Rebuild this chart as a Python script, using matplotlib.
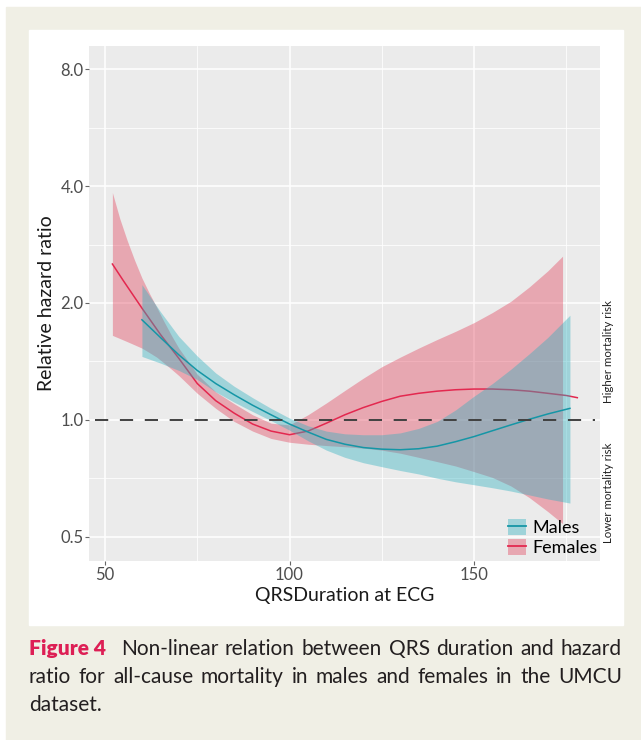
import matplotlib.pyplot as plt
from matplotlib.patches import Rectangle, Patch
from matplotlib.lines import Line2D
from matplotlib.ticker import FixedLocator
import matplotlib.transforms as mtransforms

plt.rcParams['font.family'] = ['Lato', 'DejaVu Sans']

# Males: hazard ratio curve with 95% band
male_x = [60, 65, 70, 75, 80, 85, 90, 95, 100, 105, 110, 115, 120, 125, 130,
          135, 140, 145, 150, 155, 160, 165, 170, 176]
male_hr = [1.81, 1.63, 1.47, 1.34, 1.24, 1.16, 1.09, 1.03, 0.975, 0.93, 0.89, 0.865,
           0.848, 0.84, 0.837, 0.842, 0.855, 0.878, 0.905, 0.937, 0.97, 1.003, 1.035, 1.07]
male_hi = [2.23, 1.90, 1.64, 1.46, 1.32, 1.22, 1.14, 1.07, 1.01, 0.965, 0.935, 0.92,
           0.915, 0.915, 0.925, 0.95, 0.99, 1.06, 1.15, 1.24, 1.35, 1.48, 1.63, 1.86]
male_lo = [1.456, 1.40, 1.34, 1.27, 1.18, 1.11, 1.05, 0.995, 0.94, 0.883, 0.835, 0.80,
           0.775, 0.757, 0.74, 0.725, 0.707, 0.692, 0.68, 0.668, 0.655, 0.64, 0.625, 0.61]

# Females
female_x = [52, 55, 60, 65, 70, 75, 80, 85, 90, 95, 100, 105, 110, 115, 120, 125,
            130, 135, 140, 145, 150, 155, 160, 165, 170, 175, 178]
female_hr = [2.52, 2.28, 1.94, 1.66, 1.44, 1.24, 1.12, 1.04, 0.975, 0.935, 0.915, 0.935,
             0.98, 1.03, 1.075, 1.115, 1.15, 1.17, 1.185, 1.195, 1.2, 1.2, 1.195, 1.185,
             1.17, 1.155, 1.14]
female_band_x = [52, 54, 56, 58, 60, 62, 64, 66, 68, 70, 75, 80, 85, 90, 95, 100, 105,
                 110, 115, 120, 125, 130, 135, 140, 145, 150, 155, 160, 165, 170, 174]
female_hi = [3.85, 3.30, 2.90, 2.58, 2.32, 2.12, 1.95, 1.79, 1.65, 1.53, 1.31, 1.18, 1.10,
             1.03, 0.98, 0.97, 1.03, 1.105, 1.19, 1.28, 1.37, 1.45, 1.53, 1.61, 1.69, 1.78,
             1.89, 2.02, 2.2, 2.42, 2.64]
female_lo = [1.65, 1.62, 1.59, 1.56, 1.53, 1.49, 1.45, 1.40, 1.35, 1.30, 1.17, 1.07, 0.99,
             0.935, 0.895, 0.875, 0.865, 0.858, 0.852, 0.845, 0.835, 0.82, 0.80, 0.78, 0.76,
             0.735, 0.71, 0.675, 0.63, 0.58, 0.54]

x_ticks = [50, 100, 150]
x_minor = [75, 125, 175]
y_ticks = [0.5, 1.0, 2.0, 4.0, 8.0]
y_tick_labels = ['0.5', '1.0', '2.0', '4.0', '8.0']
y_minor = [2 ** -0.5, 2 ** 0.5, 2 ** 1.5, 2 ** 2.5]

caption_lines = [
    ['Non-linear', 'relation', 'between', 'QRS', 'duration', 'and', 'hazard'],
    ['ratio', 'for', 'all-cause', 'mortality', 'in', 'males', 'and', 'females', 'in', 'the', 'UMCU'],
    ['dataset.'],
]

teal_fill = '#2fb1c0'
teal_line = '#1596a6'
pink_fill = '#e3415c'
red_line = '#e3284f'

W, H = 641, 740
fig = plt.figure(figsize=(W / 100, H / 100), dpi=100)
fig.patch.set_facecolor('white')
fig.add_artist(Rectangle((6 / W, 0), 1 - 6 / W, (H - 7) / H, transform=fig.transFigure,
                         color='#f0efe5', zorder=-2))
fig.add_artist(Rectangle((29 / W, (H - 625) / H), 594 / W, 595 / H, transform=fig.transFigure,
                         color='white', zorder=-1))

ax = fig.add_axes([89 / W, (H - 561) / H, 511 / W, 515 / H])
ax.set_facecolor('#ebebeb')
ax.set_yscale('log', base=2)
ax.set_xlim(45.66, 184.15)
ax.set_ylim(0.4325, 9.19)

ax.fill_between(female_band_x, female_lo, female_hi, color=pink_fill, alpha=0.4, lw=0, zorder=2)
ax.plot(female_x, female_hr, color=red_line, lw=1.1, zorder=3)
ax.fill_between(male_x, male_lo, male_hi, color=teal_fill, alpha=0.4, lw=0, zorder=4)
ax.plot(male_x, male_hr, color=teal_line, lw=1.1, zorder=5)
ax.axhline(1.0, xmin=0.012, xmax=0.99, color='#404040', lw=1.4,
           linestyle=(0, (6.8, 6.0)), zorder=6)

ax.set_xticks(x_ticks)
ax.set_xticklabels([str(t) for t in x_ticks])
ax.xaxis.set_minor_locator(FixedLocator(x_minor))
ax.set_yticks(y_ticks)
ax.set_yticklabels(y_tick_labels)
ax.yaxis.set_minor_locator(FixedLocator(y_minor))
ax.yaxis.set_minor_formatter(plt.NullFormatter())
ax.grid(which='major', color='white', lw=1.1)
ax.grid(which='minor', color='white', lw=0.55)
ax.set_axisbelow(True)
for s in ax.spines.values():
    s.set_visible(False)
ax.tick_params(which='major', length=3, width=0.8, color='#666666', labelcolor='#4d4d4d',
               labelsize=12, pad=1)
ax.tick_params(which='minor', length=0)

ax.set_xlabel('QRSDuration at ECG', fontsize=14, color='#1a1a1a', labelpad=3)
ax.set_ylabel('Relative hazard ratio', fontsize=14, color='#1a1a1a', labelpad=4)

# risk annotations on the right margin
trans = mtransforms.blended_transform_factory(ax.transAxes, ax.transData)
ax.text(1.016, 1.5, 'Higher mortality risk', rotation=90, transform=trans, ha='center',
        va='center', fontsize=8.3, color='#222222')
ax.text(1.016, 0.65, 'Lower mortality risk', rotation=90, transform=trans, ha='center',
        va='center', fontsize=8.3, color='#222222')

handles = [(Patch(facecolor=teal_fill, alpha=0.4, lw=0), Line2D([], [], color=teal_line, lw=1.3)),
           (Patch(facecolor=pink_fill, alpha=0.4, lw=0), Line2D([], [], color=red_line, lw=1.3))]
ax.legend(handles, ['Males', 'Females'], loc='lower right', bbox_to_anchor=(0.995, 0.01),
          frameon=False, fontsize=13, handlelength=1.0, handleheight=1.0,
          handletextpad=0.35, labelspacing=0.15, borderpad=0, borderaxespad=0)

# caption, justified between the panel edges
fig.canvas.draw()
r = fig.canvas.get_renderer()
left_px, right_px = 29, 622
cap_size = 15.0


def text_w(s, **kw):
    t = fig.text(0, 0, s, **kw)
    w = t.get_window_extent(r).width
    t.remove()
    return w


while True:
    fig_w = text_w('Figure 4', fontsize=cap_size, fontweight='heavy')
    words_w = sum(text_w(w, fontsize=cap_size) for w in caption_lines[0])
    space = text_w('a a', fontsize=cap_size) - text_w('aa', fontsize=cap_size)
    if fig_w + words_w + space * (len(caption_lines[0]) + 1.5) <= right_px - left_px:
        break
    cap_size -= 0.25

baselines = [655, 683, 711]
for i, words in enumerate(caption_lines):
    y = (H - baselines[i]) / H
    x = left_px
    widths = [text_w(w, fontsize=cap_size) for w in words]
    if i == 0:
        fig.text(x / W, y, 'Figure 4', fontsize=cap_size, fontweight='heavy', color='#dd1f55',
                 va='baseline')
        avail = right_px - left_px - fig_w - sum(widths)
        gap = avail / (len(words) - 1 + 2.2)
        x += fig_w + 2.2 * gap
    elif i < len(caption_lines) - 1:
        gap = (right_px - left_px - sum(widths)) / (len(words) - 1)
    else:
        gap = space
    for w, wd in zip(words, widths):
        fig.text(x / W, y, w, fontsize=cap_size, color='#231f20', va='baseline')
        x += wd + gap

fig.savefig('out.png', dpi=100)
